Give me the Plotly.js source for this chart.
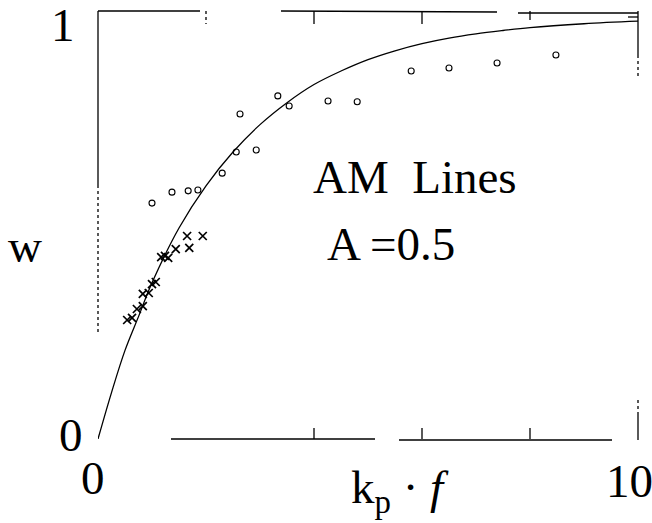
<!DOCTYPE html>
<html>
<head>
<meta charset="utf-8">
<script src="https://cdn.plot.ly/plotly-3.0.1.min.js"></script>
<style>
  html, body { margin: 0; padding: 0; background: #fff; }
  #chart { width: 652px; height: 523px; }
</style>
</head>
<body>
<div id="chart"></div>
<script>
// Saturation curve w(kp·f)
const curveX = [0, 0.25, 0.5, 0.75, 1, 1.5, 2, 2.5, 3, 3.5, 4, 4.5, 5, 5.5, 6, 6.5, 7, 7.5, 8, 9, 10];
const curveW = [0, 0.11, 0.21, 0.29, 0.37, 0.50, 0.60, 0.68, 0.745, 0.797, 0.840, 0.872, 0.899, 0.920, 0.937, 0.950, 0.960, 0.968, 0.975, 0.984, 0.990];

// Open-circle measurements
const circleX = [1.00, 1.37, 1.67, 1.85, 2.30, 2.56, 2.93, 2.63, 3.33, 3.54, 4.26, 4.80, 5.80, 6.50, 7.39, 8.48];
const circleW = [0.559, 0.585, 0.588, 0.590, 0.630, 0.680, 0.685, 0.770, 0.813, 0.789, 0.801, 0.799, 0.872, 0.879, 0.891, 0.910];

// Cross measurements
const crossX = [0.54, 0.63, 0.72, 0.83, 0.83, 0.94, 1.00, 1.07, 1.17, 1.24, 1.30, 1.44, 1.69, 1.65, 1.94];
const crossW = [0.282, 0.287, 0.308, 0.315, 0.344, 0.346, 0.367, 0.372, 0.431, 0.434, 0.429, 0.450, 0.453, 0.481, 0.481];

// Axis labels
const xTickVals = [0, 10];
const xTickText = ['0', '10'];
const yTickVals = [0, 1];
const yTickText = ['0', '1'];
const frameTicks = [2, 4, 6, 8];

const serif = 'Liberation Serif, Times New Roman, serif';
const ink = '#000';

const traces = [
  {
    x: curveX, y: curveW, type: 'scatter', mode: 'lines',
    line: { color: ink, width: 1.3, shape: 'spline', smoothing: 1 },
    hoverinfo: 'skip'
  },
  {
    x: circleX, y: circleW, type: 'scatter', mode: 'markers',
    marker: { symbol: 'circle-open', size: 6, color: ink, line: { width: 1.1, color: ink } }
  },
  {
    x: crossX, y: crossW, type: 'scatter', mode: 'markers',
    marker: { symbol: 'x-thin-open', size: 8, color: ink, line: { width: 1.7, color: ink } }
  }
];

// plot area geometry (pixels) used for paper coordinates of the frame
const L = 98, R = 638, T = 11, B = 439;
const px = v => (v - L) / (R - L);
const py = v => (B - v) / (B - T);

function seg(x0, y0, x1, y1, dash) {
  return {
    type: 'line', xref: 'paper', yref: 'paper',
    x0: px(x0), y0: py(y0), x1: px(x1), y1: py(y1),
    line: { color: ink, width: 1.3, dash: dash || 'solid' }
  };
}

const shapes = [
  // top edge
  seg(98, 11, 200, 11), seg(281, 11, 497, 12), seg(518, 13, 638, 13),
  // right edge
  seg(638, 11, 638, 55), seg(638, 55, 638, 78, 'dot'),
  seg(638, 400, 638, 415, 'dot'), seg(638, 415, 638, 440),
  seg(628, 17, 638, 17),
  // bottom edge
  seg(171, 439, 375, 439), seg(399, 440, 612, 440),
  // left edge
  seg(98, 11, 98, 185), seg(98, 185, 98, 335, 'dot')
];
// frame ticks on top and bottom edges
frameTicks.forEach(function (t) {
  const dashTop = (t === 2) ? 'dot' : (t === 8 ? 'dash' : 'solid');
  shapes.push({ type: 'line', xref: 'x', yref: 'paper', x0: t, x1: t, y0: py(11), y1: py(24),
    line: { color: ink, width: 1.3, dash: dashTop } });
  if (t >= 4) {
    shapes.push({ type: 'line', xref: 'x', yref: 'paper', x0: t, x1: t, y0: py(439), y1: py(428),
      line: { color: ink, width: 1.3 } });
  }
});

const big = { family: serif, size: 47, color: ink };

const annotations = [
  { text: yTickText[0], xref: 'paper', yref: 'y', x: px(71), y: yTickVals[0], yshift: 4 },
  { text: yTickText[1], xref: 'paper', yref: 'y', x: px(63), y: yTickVals[1], yshift: -8 },
  { text: xTickText[0], xref: 'x', yref: 'paper', x: xTickVals[0], y: py(478), xshift: -5 },
  { text: xTickText[1], xref: 'x', yref: 'paper', x: xTickVals[1], y: py(481), xshift: -9 },
  { text: 'w', xref: 'paper', yref: 'paper', x: px(25), y: py(246) },
  { text: 'k<sub>p</sub> · <i>f</i>', xref: 'paper', yref: 'paper', x: px(400), y: py(490) },
  { text: 'AM\u00a0\u00a0Lines', xref: 'paper', yref: 'paper', x: px(415), y: py(177) },
  { text: 'A =0.5', xref: 'paper', yref: 'paper', x: px(391), y: py(244) }
].map(a => Object.assign({ showarrow: false, xanchor: 'center', yanchor: 'middle', font: big }, a));

const layout = {
  width: 652, height: 523,
  margin: { l: L, r: 652 - R, t: T, b: 523 - B, pad: 0 },
  paper_bgcolor: '#fff', plot_bgcolor: '#fff',
  showlegend: false,
  xaxis: { range: [0, 10], showgrid: false, zeroline: false, showline: false, showticklabels: false, ticks: '' },
  yaxis: { range: [0, (B - T) / 422], showgrid: false, zeroline: false, showline: false, showticklabels: false, ticks: '' },
  shapes: shapes,
  annotations: annotations
};

Plotly.newPlot('chart', traces, layout, { staticPlot: true, displayModeBar: false });
</script>
</body>
</html>
